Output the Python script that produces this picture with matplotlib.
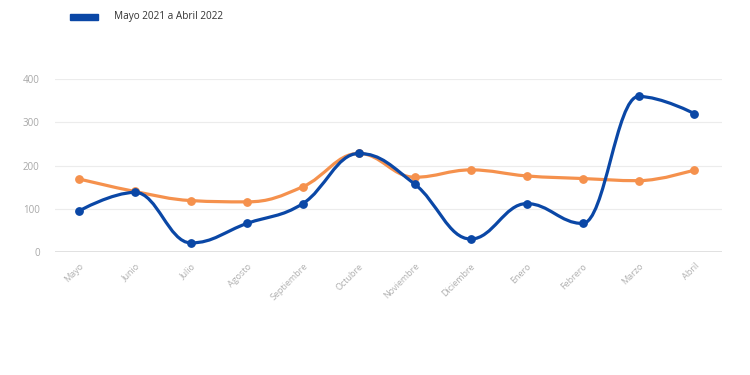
import numpy as np
import matplotlib.pyplot as plt
from matplotlib.path import Path
from matplotlib.patches import PathPatch, Rectangle

plt.rcParams['font.family'] = ['Open Sans', 'DejaVu Sans']

meses = ['Mayo', 'Junio', 'Julio', 'Agosto', 'Septiembre', 'Octubre',
         'Noviembre', 'Diciembre', 'Enero', 'Febrero', 'Marzo', 'Abril']
azul = [95, 138, 21, 66, 112, 228, 157, 30, 112, 66, 360, 320]
naranja = [169, 140, 119, 116, 151, 228, 173, 190, 176, 170, 165, 190]
leyenda = 'Mayo 2021 a Abril 2022'
yticks = [0, 100, 200, 300, 400]

BLUE = '#0a47a6'
ORANGE = '#f5914d'


def spline_path(xs, ys, smoothing=1.5):
    # highcharts-like spline, control points clamped so no false extremes appear
    xs = np.asarray(xs, float)
    ys = np.asarray(ys, float)
    n = len(xs)
    left = [(xs[i], ys[i]) for i in range(n)]
    right = [(xs[i], ys[i]) for i in range(n)]
    den = smoothing + 1
    for i in range(1, n - 1):
        px, py = xs[i], ys[i]
        lx, ly = xs[i - 1], ys[i - 1]
        nx, ny = xs[i + 1], ys[i + 1]
        lcx, lcy = (smoothing * px + lx) / den, (smoothing * py + ly) / den
        rcx, rcy = (smoothing * px + nx) / den, (smoothing * py + ny) / den
        corr = (rcy - lcy) * (rcx - px) / (rcx - lcx) + py - rcy
        lcy += corr
        rcy += corr
        if lcy > ly and lcy > py:
            lcy = max(ly, py); rcy = 2 * py - lcy
        elif lcy < ly and lcy < py:
            lcy = min(ly, py); rcy = 2 * py - lcy
        if rcy > ny and rcy > py:
            rcy = max(ny, py); lcy = 2 * py - rcy
        elif rcy < ny and rcy < py:
            rcy = min(ny, py); lcy = 2 * py - rcy
        left[i] = (lcx, lcy)
        right[i] = (rcx, rcy)
    verts = [(xs[0], ys[0])]
    codes = [Path.MOVETO]
    for i in range(n - 1):
        verts += [right[i], left[i + 1], (xs[i + 1], ys[i + 1])]
        codes += [Path.CURVE4] * 3
    return Path(verts, codes)


fig = plt.figure(figsize=(7.5, 3.75), dpi=100)
ax = fig.add_axes([0.0733, 0.328, 0.89, 0.461])

x = np.arange(len(meses))
for vals, col, z in [(naranja, ORANGE, 2), (azul, BLUE, 3)]:
    ax.add_patch(PathPatch(spline_path(x, vals), facecolor='none', edgecolor=col,
                           lw=2.3, zorder=z, capstyle='round'))
    ax.plot(x, vals, 'o', color=col, ms=5.3, zorder=z + 0.5)

ax.set_xlim(-0.43, 11.5)
ax.set_ylim(0, 400)
ax.set_yticks(yticks)
ax.set_xticks(x)
ax.set_xticklabels(meses, rotation=45, ha='right', va='top', rotation_mode='anchor')
ax.tick_params(axis='x', length=0, pad=7, labelsize=6.5, labelcolor='#b0b0b0')
ax.tick_params(axis='y', length=0, pad=11, labelsize=7, labelcolor='#a8a8a8')
ax.grid(axis='y', color='#ececec', lw=0.8)
ax.set_axisbelow(True)
for s in ax.spines.values():
    s.set_visible(False)
ax.axhline(0, color='#dcdcdc', lw=1.2, zorder=1)

# legend (only the blue series is listed)
fig.patches.append(Rectangle((70 / 750, 1 - 20 / 375), 28 / 750, 6 / 375,
                             transform=fig.transFigure, color=BLUE))
fig.text(114 / 750, 1 - 17 / 375, leyenda, fontsize=7.2, color='#333333', va='center')

fig.savefig('out.png', dpi=100, facecolor='white')
